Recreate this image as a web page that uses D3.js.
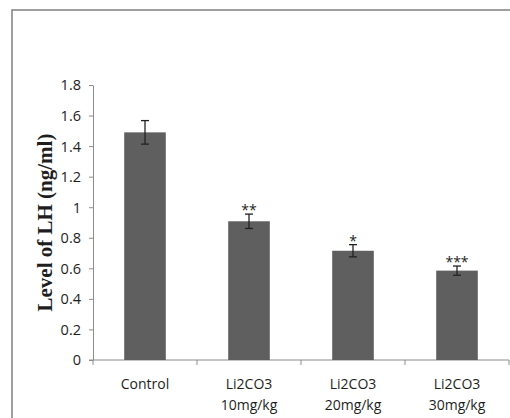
<!DOCTYPE html>
<html><head><meta charset="utf-8">
<script src="https://cdn.jsdelivr.net/npm/d3@7"></script>
<style>html,body{margin:0;padding:0;background:#fff;}svg{display:block;}</style>
</head><body>
<svg id="c" width="510" height="418"></svg>
<script>
const categories = ["Control", "Li2CO3\n10mg/kg", "Li2CO3\n20mg/kg", "Li2CO3\n30mg/kg"];
const means = [1.49, 0.908, 0.715, 0.585];
const errors = [0.077, 0.047, 0.04, 0.03];
const stars = ["", "**", "*", "***"];
const yTicks = [0, 0.2, 0.4, 0.6, 0.8, 1, 1.2, 1.4, 1.6, 1.8];
const yTitle = "Level of LH (ng/ml)";

const svg = d3.select("#c");
const axisColor = "#8c8c8c";
const textColor = "#1e1e1e";

// outer frame (extends beyond the window on right/bottom)
svg.append("rect").attr("x", 12).attr("y", 10).attr("width", 520).attr("height", 430)
  .attr("fill", "none").attr("stroke", "#888").attr("stroke-width", 1.6);

const y = d3.scaleLinear().domain([0, 1.8]).range([360, 85]);
const x = d3.scaleBand().domain(categories).range([93, 509]).paddingInner(0.6).paddingOuter(0.3);

// y axis
const yAxis = svg.append("g").attr("transform", "translate(93,0)")
  .call(d3.axisLeft(y).tickValues(yTicks).tickSize(4).tickSizeOuter(0).tickPadding(8)
    .tickFormat(d => String(+d.toFixed(1))));
yAxis.select(".domain").attr("stroke", axisColor);
yAxis.selectAll(".tick line").attr("stroke", axisColor);
yAxis.selectAll(".tick text").attr("font-family", "'Open Sans', sans-serif")
  .attr("font-size", 14.5).attr("fill", textColor).attr("dy", "0.34em");

// x axis with ticks at band boundaries
const step = x.step();
const x0 = x.range()[0], x1 = x.range()[1];
const bounds = d3.range(categories.length + 1).map(i => x0 + i * step);
svg.append("line").attr("x1", 89).attr("x2", x1).attr("y1", y(0)).attr("y2", y(0))
  .attr("stroke", axisColor).attr("stroke-width", 1);
svg.selectAll(".xt").data(bounds).join("line").attr("class", "xt")
  .attr("x1", d => d).attr("x2", d => d).attr("y1", y(0)).attr("y2", y(0) + 5)
  .attr("stroke", axisColor);

// bars
svg.selectAll(".bar").data(categories).join("rect").attr("class", "bar")
  .attr("x", d => x(d)).attr("width", x.bandwidth())
  .attr("y", (d, i) => y(means[i])).attr("height", (d, i) => y(0) - y(means[i]))
  .attr("fill", "#5f5f5f");

// error bars
const eb = svg.selectAll(".eb").data(categories).join("g").attr("class", "eb")
  .attr("transform", d => `translate(${x(d) + x.bandwidth() / 2},0)`);
eb.append("line").attr("y1", (d, i) => y(means[i] + errors[i])).attr("y2", (d, i) => y(means[i] - errors[i]))
  .attr("stroke", "#222").attr("stroke-width", 1.3);
eb.append("line").attr("x1", -4).attr("x2", 4)
  .attr("y1", (d, i) => y(means[i] + errors[i])).attr("y2", (d, i) => y(means[i] + errors[i]))
  .attr("stroke", "#222").attr("stroke-width", 1.3);
eb.append("line").attr("x1", -4).attr("x2", 4)
  .attr("y1", (d, i) => y(means[i] - errors[i])).attr("y2", (d, i) => y(means[i] - errors[i]))
  .attr("stroke", "#222").attr("stroke-width", 1.3);
eb.append("text").attr("text-anchor", "middle")
  .attr("y", (d, i) => y(means[i] + errors[i]) + 1)
  .attr("font-family", "'Open Sans', sans-serif").attr("font-size", 14).attr("fill", textColor)
  .text((d, i) => stars[i]);

// x labels
const xl = svg.selectAll(".xl").data(categories).join("text").attr("class", "xl")
  .attr("text-anchor", "middle").attr("font-family", "'Open Sans', sans-serif")
  .attr("font-size", 14).attr("fill", textColor);
xl.each(function(d) {
  const lines = d.split("\n");
  const cx = x(d) + x.bandwidth() / 2;
  d3.select(this).selectAll("tspan").data(lines).join("tspan")
    .attr("x", cx).attr("y", (l, j) => 389 + j * 21).text(l => l);
});

// y title
svg.append("text").attr("transform", `translate(45,${(y(0) + y(1.8)) / 2}) rotate(-90)`)
  .attr("text-anchor", "middle").attr("dy", "0.35em")
  .attr("font-family", "'Liberation Serif', 'Times New Roman', serif")
  .attr("font-weight", "bold").attr("font-size", 21).attr("fill", textColor)
  .text(yTitle);
</script>
</body></html>
